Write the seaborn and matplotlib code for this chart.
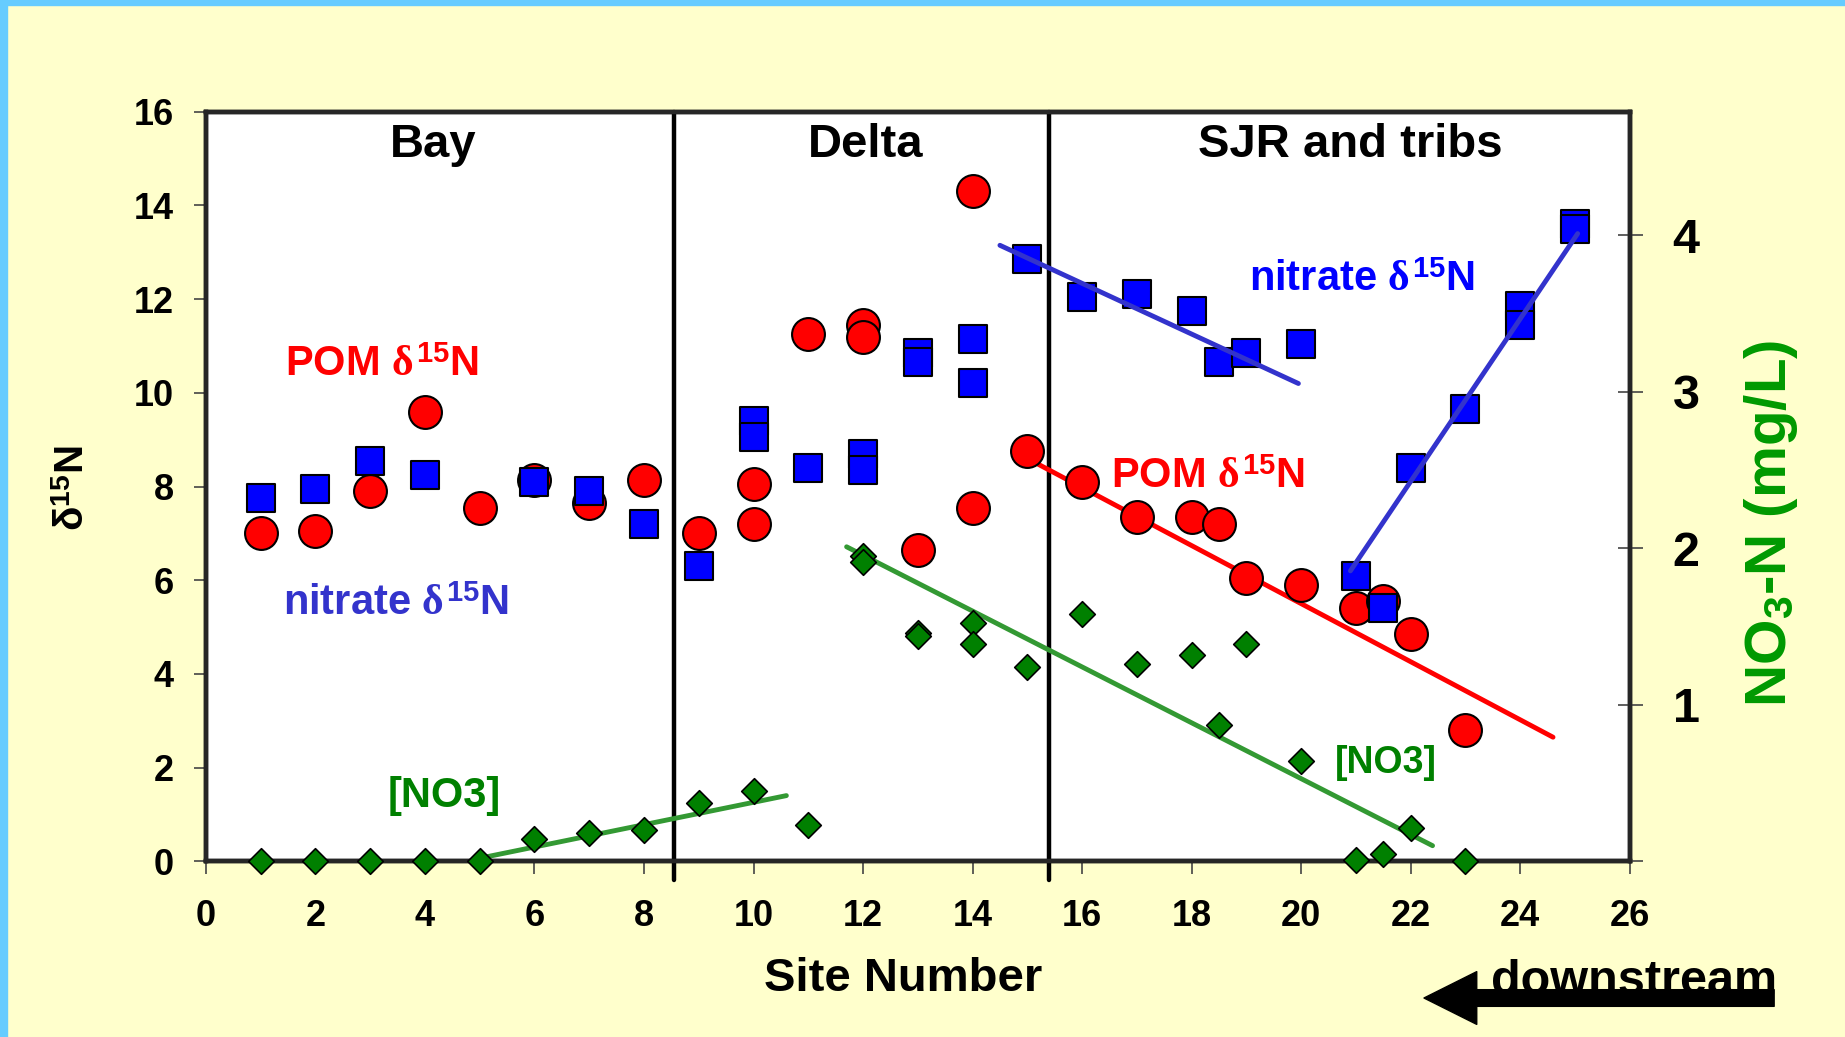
import numpy as np
import pandas as pd
import seaborn as sns
import matplotlib.pyplot as plt
from matplotlib.patches import Rectangle

# POM d15N (red circles), left axis
pom_site = [1, 2, 3, 4, 5, 6, 7, 8, 9, 10, 10, 11, 12, 12, 13, 14, 14, 15,
            16, 17, 18, 18.5, 19, 20, 21, 21.5, 22, 23]
pom_d15n = [7.0, 7.05, 7.9, 9.6, 7.55, 8.15, 7.65, 8.15, 7.0, 8.05, 7.2, 11.25, 11.45, 11.2, 6.65, 14.3, 7.55, 8.75,
            8.1, 7.35, 7.35, 7.2, 6.05, 5.9, 5.4, 5.55, 4.85, 2.8]

# nitrate d15N (blue squares), left axis
nit_site = [1, 2, 3, 4, 6, 7, 8, 9, 10, 10, 11, 12, 12, 13, 13, 14, 14, 15,
            16, 17, 18, 18.5, 19, 20, 21, 21.5, 22, 23, 24, 24, 25, 25]
nit_d15n = [7.75, 7.95, 8.55, 8.25, 8.1, 7.9, 7.2, 6.3, 9.4, 9.05, 8.4, 8.7, 8.35, 10.85, 10.65, 11.15, 10.2, 12.85,
            12.05, 12.1, 11.75, 10.65, 10.85, 11.05, 6.1, 5.4, 8.4, 9.65, 11.85, 11.45, 13.6, 13.5]

# NO3-N mg/L (green diamonds), right axis
no3_site = [1, 2, 3, 4, 5, 6, 7, 8, 9, 10, 11, 12, 12, 13, 13, 14, 14, 15,
            16, 17, 18, 18.5, 19, 20, 21, 21.5, 22, 23]
no3_conc = [0, 0, 0, 0, 0, 0.14, 0.18, 0.2, 0.37, 0.45, 0.23, 1.95, 1.91, 1.46, 1.44, 1.52, 1.39, 1.24,
            1.58, 1.26, 1.32, 0.87, 1.39, 0.64, 0.01, 0.05, 0.21, 0]

# trend lines (end points)
nit_trend1_x, nit_trend1_y = [14.5, 19.95], [13.15, 10.2]
nit_trend2_x, nit_trend2_y = [20.9, 25.05], [6.2, 13.4]
pom_trend_x, pom_trend_y = [15.0, 24.6], [8.6, 2.65]
no3_trend1_x, no3_trend1_y = [5.0, 10.6], [0.02, 0.42]
no3_trend2_x, no3_trend2_y = [11.7, 22.4], [2.01, 0.1]

# region dividers and names
dividers = [8.55, 15.4]
regions = ["Bay", "Delta", "SJR and tribs"]
region_x = [4.15, 12.05, 20.9]

sns.set_style("white")
plt.rcParams["font.family"] = ["Liberation Sans", "DejaVu Sans"]
plt.rcParams["font.weight"] = "bold"
plt.rcParams["text.color"] = "black"
plt.rcParams["xtick.color"] = "black"
plt.rcParams["ytick.color"] = "black"
plt.rcParams["mathtext.fontset"] = "custom"
plt.rcParams["mathtext.rm"] = "Liberation Sans:bold"
plt.rcParams["mathtext.bf"] = "Liberation Sans:bold"
plt.rcParams["mathtext.it"] = "Liberation Serif"

fig = plt.figure(figsize=(18.45, 10.37), dpi=100, facecolor="#FFFFCC")
fig.patches.append(Rectangle((0, 0), 0.0038, 1, transform=fig.transFigure, color="#66CCFF", zorder=0))
fig.patches.append(Rectangle((0, 0.995), 1, 0.005, transform=fig.transFigure, color="#66CCFF", zorder=0))

ax = fig.add_axes([0.1116, 0.1694, 0.7717, 0.7228])
ax.set_facecolor("white")

pom = pd.DataFrame({"site": pom_site, "d15n": pom_d15n})
nit = pd.DataFrame({"site": nit_site, "d15n": nit_d15n})
no3 = pd.DataFrame({"site": no3_site, "conc": no3_conc})

for xv in dividers:
    ax.axvline(xv, ymin=-0.025, ymax=1, color="black", lw=3.2, clip_on=False, zorder=2)

sns.scatterplot(data=pom, x="site", y="d15n", ax=ax, marker="o", s=560, color="#FF0000",
                edgecolor="black", linewidth=1.5, zorder=4, legend=False)
sns.lineplot(x=pom_trend_x, y=pom_trend_y, ax=ax, color="#FF0000", lw=3.5, sort=False,
             estimator=None, zorder=3)
sns.scatterplot(data=nit, x="site", y="d15n", ax=ax, marker="s", s=420, color="#0000FF",
                edgecolor="black", linewidth=1.5, zorder=5, legend=False)
sns.lineplot(x=nit_trend1_x, y=nit_trend1_y, ax=ax, color="#3333CC", lw=3.5, sort=False,
             estimator=None, zorder=6)
sns.lineplot(x=nit_trend2_x, y=nit_trend2_y, ax=ax, color="#3333CC", lw=3.5, sort=False,
             estimator=None, zorder=6)

ax.set_xlim(0, 26)
ax.set_ylim(0, 16)
ax.set_xticks(range(0, 27, 2))
ax.set_yticks(range(0, 17, 2))
ax.set_xlabel("")
ax.set_ylabel("")
ax.tick_params(axis="both", direction="out", length=9, width=1.2, color="#444444",
               labelsize=26, labelcolor="black", bottom=True, left=True)
ax.tick_params(axis="x", pad=18)
ax.tick_params(axis="y", pad=14)
for lab in ax.get_xticklabels() + ax.get_yticklabels():
    lab.set_fontweight("bold")
for sp in ax.spines.values():
    sp.set_linewidth(3.2)
    sp.set_color("black")

for name, xv in zip(regions, region_x):
    ax.text(xv, 15.3, name, ha="center", va="center", fontsize=34, fontweight="bold", color="black")

delta = r"$\mathit{\delta}^{15}$"
ax.text(3.22, 10.6, "POM " + delta + "N", ha="center", va="center", fontsize=30, color="#FF0000", fontweight="bold")
ax.text(3.48, 5.5, "nitrate " + delta + "N", ha="center", va="center", fontsize=30, color="#3333CC",
        fontweight="bold")
ax.text(21.12, 12.4, "nitrate " + delta + "N", ha="center", va="center", fontsize=30, color="#0000FF",
        fontweight="bold")
ax.text(18.29, 8.2, "POM " + delta + "N", ha="center", va="center", fontsize=30, color="#FF0000", fontweight="bold")
ax.text(4.36, 1.4, "[NO3]", ha="center", va="center", fontsize=30, color="#008000", fontweight="bold")
ax.text(21.55, 2.1, "[NO3]", ha="center", va="center", fontsize=27, color="#008000", fontweight="bold")

ax2 = ax.twinx()
sns.scatterplot(data=no3, x="site", y="conc", ax=ax2, marker="D", s=170, color="#008000",
                edgecolor="black", linewidth=1.2, zorder=4, legend=False, clip_on=False)
sns.lineplot(x=no3_trend1_x, y=no3_trend1_y, ax=ax2, color="#339933", lw=3.5, sort=False,
             estimator=None, zorder=3)
sns.lineplot(x=no3_trend2_x, y=no3_trend2_y, ax=ax2, color="#339933", lw=3.5, sort=False,
             estimator=None, zorder=3)
ax2.set_ylim(0, 4.79)
ax2.set_yticks([0, 1, 2, 3, 4])
ax2.set_yticklabels(["", "1", "2", "3", "4"])
ax2.set_ylabel("")
ax2.tick_params(axis="y", direction="inout", length=18, width=1.2, color="#444444", labelsize=35,
                labelcolor="black", pad=22, right=True)
for lab in ax2.get_yticklabels():
    lab.set_fontweight("bold")
for sp in ax2.spines.values():
    sp.set_linewidth(3.2)

fig.text(0.0396, 0.529, r"δ$^{15}$N", rotation=90, ha="center", va="center", fontsize=29,
         fontweight="bold", color="black")
fig.text(0.96, 0.4957, r"NO$_3$-N (mg/L)", rotation=90, ha="center", va="center", fontsize=42,
         fontweight="bold", color="#009900")
fig.text(0.4894, 0.0559, "Site Number", ha="center", va="center", fontsize=34, fontweight="bold")

fig.text(0.8856, 0.054, "downstream", ha="center", va="center", fontsize=35, fontweight="bold", zorder=5)
ax.annotate("", xy=(0.7718, 0.0376), xytext=(0.9616, 0.0376), xycoords="figure fraction",
            textcoords="figure fraction",
            arrowprops=dict(arrowstyle="simple,head_length=3.8,head_width=3.8,tail_width=1.2",
                            fc="black", ec="black", mutation_scale=10, shrinkA=0, shrinkB=0))

fig.savefig("out.png", dpi=100, facecolor=fig.get_facecolor())
